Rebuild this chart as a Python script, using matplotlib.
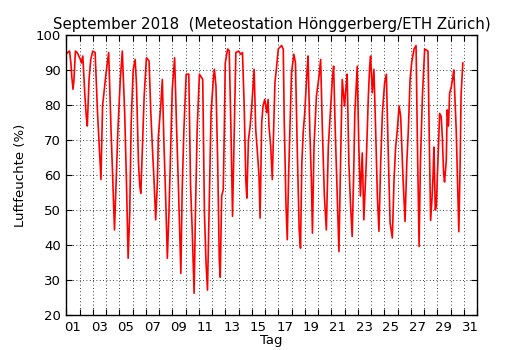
import matplotlib
matplotlib.use("Agg")
import matplotlib.pyplot as plt
from matplotlib.ticker import FixedLocator, NullFormatter, FixedFormatter

# time in days since 1 Sep 2018 00:00
days = [0.0, 0.1, 0.25, 0.35, 0.42, 0.51, 0.58, 0.69, 0.82, 0.95, 1.07, 1.15, 1.25,
        1.41, 1.51, 1.59, 1.72, 1.85, 2.0, 2.18,
        2.36, 2.49, 2.62, 2.74, 2.87, 3.0, 3.2,
        3.38, 3.51, 3.64, 3.77, 3.9, 4.08, 4.23,
        4.41, 4.54, 4.67, 4.79, 4.9, 5.05, 5.2,
        5.3, 5.45, 5.55, 5.63, 5.75, 5.88, 6.05, 6.25,
        6.38, 6.5, 6.63, 6.75, 6.88, 6.95, 7.13, 7.25,
        7.38, 7.5, 7.63, 7.75, 7.88, 8.0, 8.18,
        8.33, 8.45, 8.65, 8.75, 8.88, 9.05, 9.25,
        9.38, 9.5, 9.65, 9.75, 9.88, 10.05, 10.3,
        10.43, 10.55, 10.66, 10.8, 10.93, 11.1, 11.18, 11.3,
        11.43, 11.55, 11.62, 11.73, 11.85, 11.93, 12.0, 12.18, 12.3,
        12.43, 12.55, 12.68, 12.8, 13.0, 13.18, 13.3,
        13.43, 13.55, 13.63, 13.75, 13.88, 14.0, 14.18,
        14.3, 14.43, 14.55, 14.63, 14.75, 14.85, 14.98, 15.13, 15.23, 15.3,
        15.43, 15.55, 15.75, 15.88, 16.0, 16.25, 16.38,
        16.45, 16.58, 16.68, 16.78, 16.88, 17.0, 17.18, 17.3,
        17.43, 17.58, 17.68, 17.78, 17.88, 18.0, 18.18, 18.25,
        18.38, 18.5, 18.58, 18.7, 18.88, 19.08, 19.2,
        19.33, 19.48, 19.63, 19.78, 19.93, 20.08, 20.18,
        20.3, 20.45, 20.58, 20.68, 20.75, 20.83, 21.0, 21.1, 21.2,
        21.33, 21.45, 21.58, 21.7, 21.78, 21.96,
        22.08, 22.2, 22.34, 22.46, 22.64, 22.8, 22.9, 22.97, 23.1, 23.22,
        23.35, 23.48, 23.6, 23.73, 23.86, 24.03, 24.16,
        24.29, 24.44, 24.61, 24.74, 24.86, 24.99, 25.12, 25.24,
        25.42, 25.57, 25.7, 25.82, 25.95, 26.07, 26.25, 26.4,
        26.5, 26.63, 26.73, 26.88, 27.05, 27.3,
        27.4, 27.5, 27.6, 27.68, 27.75, 27.85, 27.93, 28.05, 28.18, 28.3, 28.38, 28.48, 28.55,
        28.68, 28.75, 28.85, 28.93, 29.05, 29.18, 29.25,
        29.43, 29.55, 29.63, 29.73, 29.8, 29.93]

humidity = [94.5, 95, 95.4, 92, 88, 84.5, 87, 95.4, 95, 94, 93, 92, 94,
            82.5, 76.8, 74, 87.3, 93, 95.4, 95,
            77.8, 68, 58.7, 79.7, 84.5, 89, 95,
            73, 58.7, 44.3, 58.7, 73, 87.3, 95.4,
            77.8, 58.7, 36.2, 49, 75, 90, 93,
            86, 63.5, 56.8, 54.8, 68, 82.5, 93.5, 92.6,
            78, 68, 58, 47.2, 58, 71, 79.7, 87.3,
            68, 53.9, 36.2, 49, 68, 84.5, 93.5,
            73, 58.7, 31.9, 55.8, 73, 88.8, 88.8,
            57, 45, 26.2, 49, 73, 88.8, 87.3,
            49, 34.8, 27.1, 54, 77.8, 87.3, 90.2, 85.4,
            63.4, 35.7, 30.8, 54, 55.8, 73, 92, 96, 95.5,
            73, 48.2, 73, 95, 95.4, 94.5, 95,
            79.7, 58.7, 53.4, 70, 74, 79.7, 90.2,
            73, 66.3, 59.6, 47.7, 74.9, 79.7, 81.6, 77.8, 81.6, 74,
            68.2, 58.7, 86.4, 91.1, 96, 97, 96,
            75.9, 52, 41.5, 59.6, 73, 89.2, 94.5, 92,
            68.2, 44.3, 39.1, 63.4, 72, 77.8, 90.2, 94,
            73, 58.7, 43.4, 68.2, 82.5, 88.3, 93,
            73, 54, 44.3, 68.2, 77.8, 87.3, 91.1,
            73, 54, 38.1, 59.6, 73, 87.3, 79.7, 84.5, 88.8,
            63.4, 52, 42.4, 61.5, 77.8, 91.1,
            68.2, 54, 66.3, 47.2, 63.4, 82.5, 91.1, 94, 83.5, 90.2,
            73, 54, 43.9, 63.4, 77.8, 86.4, 88.8,
            68.2, 46.3, 42, 58.7, 68, 73, 79.7, 76.8,
            58.7, 46.7, 63.4, 73, 87.3, 92.1, 96, 97,
            70, 39.6, 63.4, 82.5, 96, 95.4,
            70, 47, 53, 59.5, 68, 50, 51, 64, 77.6, 76.7, 71, 60.5, 58,
            64, 78.6, 74, 83.3, 85, 88, 90,
            73, 54.8, 43.8, 64, 83, 92]

day_labels = ["01", "03", "05", "07", "09", "11", "13", "15",
              "17", "19", "21", "23", "25", "27", "29", "31"]
y_ticks = [20, 30, 40, 50, 60, 70, 80, 90, 100]

fig = plt.figure(figsize=(5.3, 3.5), dpi=100, facecolor="white")
ax = fig.add_axes([0.125, 0.1, 0.775, 0.8])
ax.plot(days, humidity, color="red", linewidth=1.2)

ax.set_xlim(0, 31)
ax.set_ylim(20, 100)
ax.xaxis.set_major_locator(FixedLocator(list(range(0, 32))))
ax.xaxis.set_major_formatter(NullFormatter())
ax.xaxis.set_minor_locator(FixedLocator([i + 0.5 for i in range(0, 31, 2)]))
ax.xaxis.set_minor_formatter(FixedFormatter(day_labels))
ax.set_yticks(y_ticks)

ax.tick_params(axis="both", which="major", direction="in", length=4, width=0.8,
               top=True, right=True, labelsize=9.5, colors="black")
ax.tick_params(axis="x", which="minor", length=0, labelsize=9.5, pad=4)
ax.tick_params(axis="y", which="major", pad=4)
ax.grid(True, which="major", color="black", linestyle=(0, (1, 3)), linewidth=0.6)
for s in ax.spines.values():
    s.set_linewidth(1.0)
    s.set_color("black")

ax.set_title("September 2018  (Meteostation Hönggerberg/ETH Zürich)", fontsize=10.8, pad=4)
ax.set_xlabel("Tag", fontsize=9.5, labelpad=0)
ax.set_ylabel("Luftfeuchte (%)", fontsize=9.5, labelpad=6)

fig.savefig("out.png", dpi=100, facecolor="white")
